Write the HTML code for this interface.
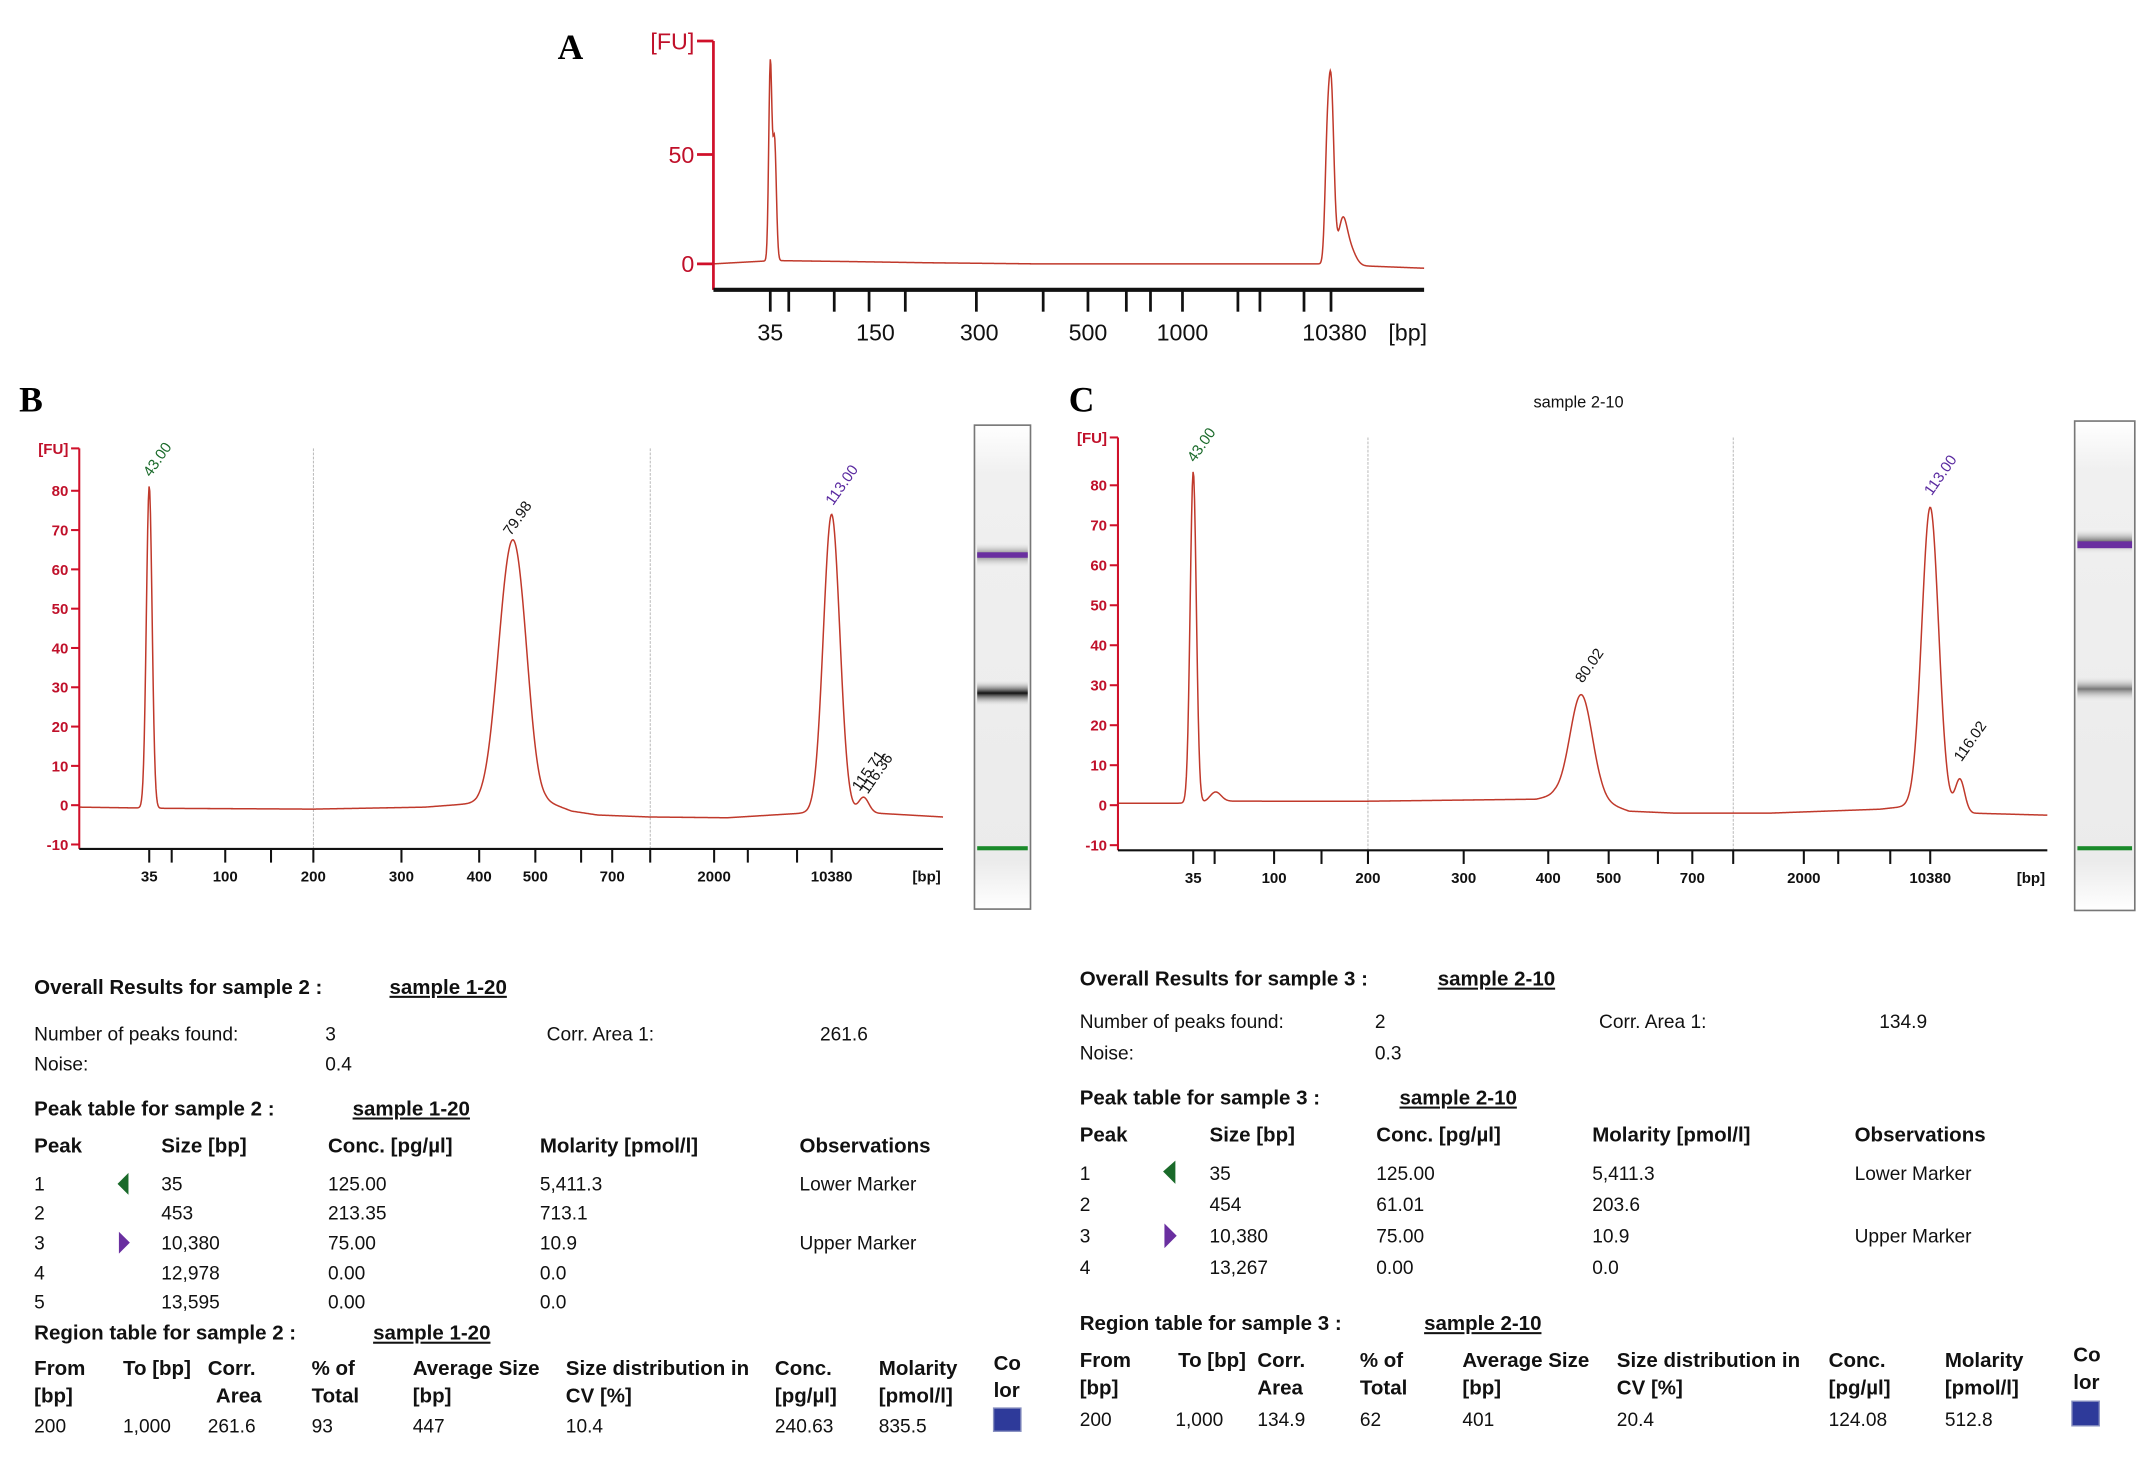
<!DOCTYPE html>
<html><head><meta charset="utf-8"><style>
html,body{margin:0;padding:0;background:#fff;}
svg{display:block;}
text{font-family:"Liberation Sans",sans-serif;}
.t{font-size:14px;fill:#111;}
.b{font-size:15px;font-weight:bold;fill:#111;}
.u{text-decoration:underline;}
</style></head><body>
<svg id="fig" width="2143" height="1460" viewBox="0 0 1568 1068" preserveAspectRatio="none" xmlns="http://www.w3.org/2000/svg">
<text x="408" y="43" style="font-family:'Liberation Serif',serif;font-size:26px;font-weight:bold">A</text>
<text x="14" y="301" style="font-family:'Liberation Serif',serif;font-size:26px;font-weight:bold">B</text>
<text x="782" y="301" style="font-family:'Liberation Serif',serif;font-size:26px;font-weight:bold">C</text>
<text x="1155" y="298" text-anchor="middle" class="t" style="font-size:12px">sample 2-10</text>
<g id="chartA"></g>
<g id="chartB"></g>
<g id="chartC"></g>
<g id="gelB">
<defs><linearGradient id="gg" x1="0" y1="0" x2="0" y2="1"><stop offset="0" stop-color="#fff"/><stop offset="0.1" stop-color="#f0f0f0"/><stop offset="0.9" stop-color="#ebebeb"/><stop offset="1" stop-color="#fff"/></linearGradient>
<linearGradient id="bandDark" x1="0" y1="0" x2="0" y2="1"><stop offset="0" stop-color="#fff" stop-opacity="0"/><stop offset="0.5" stop-color="#111"/><stop offset="1" stop-color="#fff" stop-opacity="0"/></linearGradient>
<linearGradient id="bandGray" x1="0" y1="0" x2="0" y2="1"><stop offset="0" stop-color="#fff" stop-opacity="0"/><stop offset="0.5" stop-color="#777"/><stop offset="1" stop-color="#fff" stop-opacity="0"/></linearGradient></defs>
<rect x="713" y="311" width="41" height="354" fill="url(#gg)" stroke="#777" stroke-width="1.2"/>
<rect x="715" y="396" width="37" height="20" fill="url(#bandGray)"/>
<rect x="715" y="404" width="37" height="4" fill="#6a2fa0"/>
<rect x="715" y="497" width="37" height="20" fill="url(#bandDark)"/>
<rect x="715" y="619" width="37" height="3" fill="#1a8a2a"/>
</g>
<g id="gelC">
<rect x="1518" y="308" width="44" height="358" fill="url(#gg)" stroke="#777" stroke-width="1.2"/>
<rect x="1520" y="386" width="40" height="20" fill="url(#bandGray)"/>
<rect x="1520" y="396" width="40" height="5" fill="#6a2fa0"/>
<rect x="1520" y="494" width="40" height="20" fill="url(#bandGray)"/>
<rect x="1520" y="619" width="40" height="3" fill="#1a8a2a"/>
</g>

<g>
<text x="25" y="727" class="b">Overall Results for sample 2 :</text>
<text x="285" y="727" class="b u">sample 1-20</text>
<text x="25" y="761" class="t">Number of peaks found:</text><text x="238" y="761" class="t">3</text>
<text x="400" y="761" class="t">Corr. Area 1:</text><text x="600" y="761" class="t">261.6</text>
<text x="25" y="783" class="t">Noise:</text><text x="238" y="783" class="t">0.4</text>
<text x="25" y="816" class="b">Peak table for sample 2 :</text>
<text x="258" y="816" class="b u">sample 1-20</text>
<g><text x="25" y="843" class="b">Peak</text><text x="118" y="843" class="b">Size [bp]</text><text x="240" y="843" class="b">Conc. [pg/µl]</text><text x="395" y="843" class="b">Molarity [pmol/l]</text><text x="585" y="843" class="b">Observations</text></g>
<text x="25" y="871" class="t">1</text><polygon points="94,858 86,866 94,874" fill="#1a6a2a"/><text x="118" y="871" class="t">35</text><text x="240" y="871" class="t">125.00</text><text x="395" y="871" class="t">5,411.3</text><text x="585" y="871" class="t">Lower Marker</text>
<text x="25" y="892" class="t">2</text><text x="118" y="892" class="t">453</text><text x="240" y="892" class="t">213.35</text><text x="395" y="892" class="t">713.1</text>
<text x="25" y="914" class="t">3</text><polygon points="87,901 95,909 87,917" fill="#6a2fa0"/><text x="118" y="914" class="t">10,380</text><text x="240" y="914" class="t">75.00</text><text x="395" y="914" class="t">10.9</text><text x="585" y="914" class="t">Upper Marker</text>
<text x="25" y="936" class="t">4</text><text x="118" y="936" class="t">12,978</text><text x="240" y="936" class="t">0.00</text><text x="395" y="936" class="t">0.0</text>
<text x="25" y="957" class="t">5</text><text x="118" y="957" class="t">13,595</text><text x="240" y="957" class="t">0.00</text><text x="395" y="957" class="t">0.0</text>
<text x="25" y="980" class="b">Region table for sample 2 :</text>
<text x="273" y="980" class="b u">sample 1-20</text>
<text x="25" y="1006" class="b">From</text><text x="25" y="1026" class="b">[bp]</text>
<text x="90" y="1006" class="b">To [bp]</text><text x="152" y="1006" class="b">Corr.</text><text x="158" y="1026" class="b">Area</text>
<text x="228" y="1006" class="b">% of</text><text x="228" y="1026" class="b">Total</text>
<text x="302" y="1006" class="b">Average Size</text><text x="302" y="1026" class="b">[bp]</text>
<text x="414" y="1006" class="b">Size distribution in</text><text x="414" y="1026" class="b">CV [%]</text>
<text x="567" y="1006" class="b">Conc.</text><text x="567" y="1026" class="b">[pg/µl]</text>
<text x="643" y="1006" class="b">Molarity</text><text x="643" y="1026" class="b">[pmol/l]</text>
<text x="727" y="1002" class="b">Co</text><text x="727" y="1022" class="b">lor</text>
<text x="25" y="1048" class="t">200</text><text x="90" y="1048" class="t">1,000</text><text x="152" y="1048" class="t">261.6</text><text x="228" y="1048" class="t">93</text><text x="302" y="1048" class="t">447</text><text x="414" y="1048" class="t">10.4</text><text x="567" y="1048" class="t">240.63</text><text x="643" y="1048" class="t">835.5</text>
<rect x="727" y="1030" width="20" height="17" fill="#2e3a9a" stroke="#8890c0"/>
</g>

<g>
<text x="790" y="721" class="b">Overall Results for sample 3 :</text>
<text x="1052" y="721" class="b u">sample 2-10</text>
<text x="790" y="752" class="t">Number of peaks found:</text><text x="1006" y="752" class="t">2</text>
<text x="1170" y="752" class="t">Corr. Area 1:</text><text x="1375" y="752" class="t">134.9</text>
<text x="790" y="775" class="t">Noise:</text><text x="1006" y="775" class="t">0.3</text>
<text x="790" y="808" class="b">Peak table for sample 3 :</text>
<text x="1024" y="808" class="b u">sample 2-10</text>
<g><text x="790" y="835" class="b">Peak</text><text x="885" y="835" class="b">Size [bp]</text><text x="1007" y="835" class="b">Conc. [pg/µl]</text><text x="1165" y="835" class="b">Molarity [pmol/l]</text><text x="1357" y="835" class="b">Observations</text></g>
<text x="790" y="863" class="t">1</text><polygon points="860,849 851,857 860,866" fill="#1a6a2a"/><text x="885" y="863" class="t">35</text><text x="1007" y="863" class="t">125.00</text><text x="1165" y="863" class="t">5,411.3</text><text x="1357" y="863" class="t">Lower Marker</text>
<text x="790" y="886" class="t">2</text><text x="885" y="886" class="t">454</text><text x="1007" y="886" class="t">61.01</text><text x="1165" y="886" class="t">203.6</text>
<text x="790" y="909" class="t">3</text><polygon points="852,895 861,904 852,913" fill="#6a2fa0"/><text x="885" y="909" class="t">10,380</text><text x="1007" y="909" class="t">75.00</text><text x="1165" y="909" class="t">10.9</text><text x="1357" y="909" class="t">Upper Marker</text>
<text x="790" y="932" class="t">4</text><text x="885" y="932" class="t">13,267</text><text x="1007" y="932" class="t">0.00</text><text x="1165" y="932" class="t">0.0</text>
<text x="790" y="973" class="b">Region table for sample 3 :</text>
<text x="1042" y="973" class="b u">sample 2-10</text>
<text x="790" y="1000" class="b">From</text><text x="790" y="1020" class="b">[bp]</text>
<text x="862" y="1000" class="b">To [bp]</text><text x="920" y="1000" class="b">Corr.</text><text x="920" y="1020" class="b">Area</text>
<text x="995" y="1000" class="b">% of</text><text x="995" y="1020" class="b">Total</text>
<text x="1070" y="1000" class="b">Average Size</text><text x="1070" y="1020" class="b">[bp]</text>
<text x="1183" y="1000" class="b">Size distribution in</text><text x="1183" y="1020" class="b">CV [%]</text>
<text x="1338" y="1000" class="b">Conc.</text><text x="1338" y="1020" class="b">[pg/µl]</text>
<text x="1423" y="1000" class="b">Molarity</text><text x="1423" y="1020" class="b">[pmol/l]</text>
<text x="1517" y="996" class="b">Co</text><text x="1517" y="1016" class="b">lor</text>
<text x="790" y="1043" class="t">200</text><text x="860" y="1043" class="t">1,000</text><text x="920" y="1043" class="t">134.9</text><text x="995" y="1043" class="t">62</text><text x="1070" y="1043" class="t">401</text><text x="1183" y="1043" class="t">20.4</text><text x="1338" y="1043" class="t">124.08</text><text x="1423" y="1043" class="t">512.8</text>
<rect x="1516" y="1025" width="20" height="18" fill="#2e3a9a" stroke="#8890c0"/>
</g>
</svg>
<script>
// ---- Chart A data (migration time units 0..100) ----
const aTickTimes=[8.0,10.6,17.0,21.9,27.0,37.0,46.4,52.7,58.1,61.5,66.0,73.8,76.9,83.1,86.9];
const aLabelTimes=[8.0,22.8,37.4,52.7,66.0,87.4];
const aLabels=['35','150','300','500','1000','10380'];
const aYTicks=[0,50];
const aPeakTimes=[8.0,8.6,86.3,86.9,88.5,89.5];
const aPeakHeights=[89,55,35,82,18,8];
const aPeakWidths=[0.22,0.25,0.3,0.4,0.6,0.8];
const aBaseT=[0,8.5,20,30,45,85,92,100];
const aBaseV=[0,1.5,1,0.5,0,0,-1,-2];
// ---- Chart B data ----
const bTickTimes=[8.1,10.7,16.9,22.2,27.1,37.3,46.3,52.8,58.1,61.7,66.1,73.5,77.4,83.1,87.1];
const bLabelTimes=[8.1,16.9,27.1,37.3,46.3,52.8,61.7,73.5,87.1];
const bLabels=['35','100','200','300','400','500','700','2000','10380'];
const bGridTimes=[27.1,66.1];
const bYTicks=[-10,0,10,20,30,40,50,60,70,80];
const bPeakTimes=[8.1,49.8,51.3,87.1,90.8];
const bPeakHeights=[82,56,20,76,4];
const bPeakWidths=[0.33,1.4,1.1,0.95,0.6];
const bPeakLabels=['43.00','79.98','113.00'];
const bBaseT=[0,10,27,40,46,48,54,57,60,66,75,84,92,100];
const bBaseV=[-0.5,-0.8,-1,-0.5,0.5,2,1,-1.5,-2.5,-3,-3.2,-2,-2,-3];
// ---- Chart C data ----
const cTickTimes=[8.1,10.4,16.8,21.9,26.9,37.2,46.3,52.8,58.1,61.8,66.2,73.8,77.5,83.1,87.4];
const cLabelTimes=[8.1,16.8,26.9,37.2,46.3,52.8,61.8,73.8,87.4];
const cLabels=['35','100','200','300','400','500','700','2000','10380'];
const cGridTimes=[26.9,66.2];
const cYTicks=[-10,0,10,20,30,40,50,60,70,80];
const cPeakTimes=[8.1,10.5,49.85,87.4,90.6];
const cPeakHeights=[83,2.5,26,75,8];
const cPeakWidths=[0.33,0.6,1.2,0.9,0.5];
const cBaseT=[0,8,12,27,45,47,52,55,60,70,82,86,92,100];
const cBaseV=[0.5,0.5,1,1,1.5,2.5,1,-1.5,-2,-2,-1,0,-2,-2.5];

const NS='http://www.w3.org/2000/svg';
function mk(parent,tag,attrs){const e=document.createElementNS(NS,tag);for(const k in attrs)e.setAttribute(k,attrs[k]);parent.appendChild(e);return e;}
function interp(T,V,t){if(t<=T[0])return V[0];for(let i=1;i<T.length;i++){if(t<=T[i]){const f=(t-T[i-1])/(T[i]-T[i-1]);return V[i-1]+f*(V[i]-V[i-1]);}}return V[V.length-1];}
function signal(t,bt,bv,pt,ph,pw){let v=interp(bt,bv,t);for(let i=0;i<pt.length;i++){const d=(t-pt[i])/pw[i];v+=ph[i]*Math.exp(-0.5*d*d);}return v;}

function drawChart(g,o){
  const X=t=>o.x0+(o.x1-o.x0)*t/100;
  const Y=v=>o.y0-v*o.ky;
  (o.grid||[]).forEach(t=>{const l=mk(g,'line',{x1:X(t),x2:X(t),y1:o.yTop,y2:o.axisY,stroke:'#aaa','stroke-width':0.6,'stroke-dasharray':'2,1'});
  
  });
  let d='';for(let t=0;t<=100;t+=0.08){const v=signal(t,o.bt,o.bv,o.pt,o.ph,o.pw);d+=(d?'L':'M')+X(t).toFixed(2)+','+Y(v).toFixed(2);}
  const tr=mk(g,'path',{d:d,fill:'none',stroke:'#c0392b','stroke-width':1.1});
  
  
  const ya=mk(g,'line',{x1:o.x0,x2:o.x0,y1:o.yTop,y2:o.axisY,stroke:'#d0102a','stroke-width':o.aw||1.5});
  
  
  o.yt.forEach(v=>{mk(g,'line',{x1:o.x0-o.tl,x2:o.x0,y1:Y(v),y2:Y(v),stroke:'#d0102a','stroke-width':o.aw||1.5});
   const tx=mk(g,'text',{x:o.x0-o.tl-2,y:Y(v)+o.fs*0.36,'text-anchor':'end',fill:'#c0102a','font-size':o.fs,'font-weight':o.fw||'bold'});tx.textContent=v;
   
   });
  mk(g,'line',{x1:o.x0-o.tl,x2:o.x0,y1:o.yTop,y2:o.yTop,stroke:'#d0102a','stroke-width':o.aw||1.5});
  const fu=mk(g,'text',{x:o.x0-o.tl-2,y:o.yTop+o.fs*0.36,'text-anchor':'end',fill:'#c0102a','font-size':o.fs,'font-weight':o.fw||'bold'});fu.textContent='[FU]';
  
  
  const xa=mk(g,'line',{x1:o.x0,x2:o.x1,y1:o.axisY,y2:o.axisY,stroke:'#111','stroke-width':o.xw||1.6});
  
  
  o.ticks.forEach(t=>{mk(g,'line',{x1:X(t),x2:X(t),y1:o.axisY,y2:o.axisY+o.xtl,stroke:'#111','stroke-width':o.xtw||1.5});});
  o.labT.forEach((t,i)=>{const tx=mk(g,'text',{x:X(t),y:o.labY,'text-anchor':'middle',fill:'#111','font-size':o.xfs,'font-weight':o.fw||'bold'});tx.textContent=o.labs[i];
   
   });
  const bp=mk(g,'text',{x:o.x1-12,y:o.labY,'text-anchor':'middle',fill:'#111','font-size':o.xfs,'font-weight':o.fw||'bold'});bp.textContent='[bp]';
  
  
  const sig=t=>signal(t,o.bt,o.bv,o.pt,o.ph,o.pw);
  return {X,Y,sig};
}
function peakLabel(g,x,y,txt,color){const tx=mk(g,'text',{x:x,y:y,fill:color,'font-size':11,transform:'rotate(-55 '+x+' '+y+')'});tx.textContent=txt;
 
 }

drawChart(document.getElementById('chartA'),{x0:522,x1:1042,y0:193,ky:1.6,yTop:30,axisY:212,tl:12,fs:17,fw:'normal',aw:2,xw:3,xtw:2,xtl:16,
 yt:aYTicks,ticks:aTickTimes,labT:aLabelTimes,labs:aLabels,labY:249,xfs:17,bt:aBaseT,bv:aBaseV,pt:aPeakTimes,ph:aPeakHeights,pw:aPeakWidths});

const gb=document.getElementById('chartB');
const sb=drawChart(gb,{x0:58,x1:690,y0:589,ky:2.875,yTop:328,axisY:621,tl:6,fs:11,aw:1.5,xtl:10,grid:bGridTimes,
 yt:bYTicks,ticks:bTickTimes,labT:bLabelTimes,labs:bLabels,labY:645,xfs:11,bt:bBaseT,bv:bBaseV,pt:bPeakTimes,ph:bPeakHeights,pw:bPeakWidths});
peakLabel(gb,sb.X(bPeakTimes[0])+1,sb.Y(sb.sig(bPeakTimes[0]))-6,bPeakLabels[0],'#1a6a2a');
peakLabel(gb,sb.X(bPeakTimes[1])+1,sb.Y(sb.sig(bPeakTimes[1]))-8,bPeakLabels[1],'#111');
peakLabel(gb,sb.X(bPeakTimes[3])+1,sb.Y(sb.sig(bPeakTimes[3]))-6,bPeakLabels[2],'#5a2aa0');
peakLabel(gb,sb.X(bPeakTimes[4])-3,sb.Y(2)-4,'115.71','#111');
peakLabel(gb,sb.X(bPeakTimes[4])+3,sb.Y(2)-2,'116.36','#111');

const gc=document.getElementById('chartC');
const sc=drawChart(gc,{x0:818,x1:1498,y0:589,ky:2.925,yTop:320,axisY:622,tl:6,fs:11,aw:1.5,xtl:10,grid:cGridTimes,
 yt:cYTicks,ticks:cTickTimes,labT:cLabelTimes,labs:cLabels,labY:646,xfs:11,bt:cBaseT,bv:cBaseV,pt:cPeakTimes,ph:cPeakHeights,pw:cPeakWidths});
peakLabel(gc,sc.X(cPeakTimes[0])+1,sc.Y(sc.sig(cPeakTimes[0]))-6,'43.00','#1a6a2a');
peakLabel(gc,sc.X(cPeakTimes[2])+1,sc.Y(sc.sig(cPeakTimes[2]))-8,'80.02','#111');
peakLabel(gc,sc.X(cPeakTimes[3])+1,sc.Y(sc.sig(cPeakTimes[3]))-8,'113.00','#5a2aa0');
peakLabel(gc,sc.X(cPeakTimes[4])+1,sc.Y(sc.sig(cPeakTimes[4]))-12,'116.02','#111');
</script>
</body></html>
